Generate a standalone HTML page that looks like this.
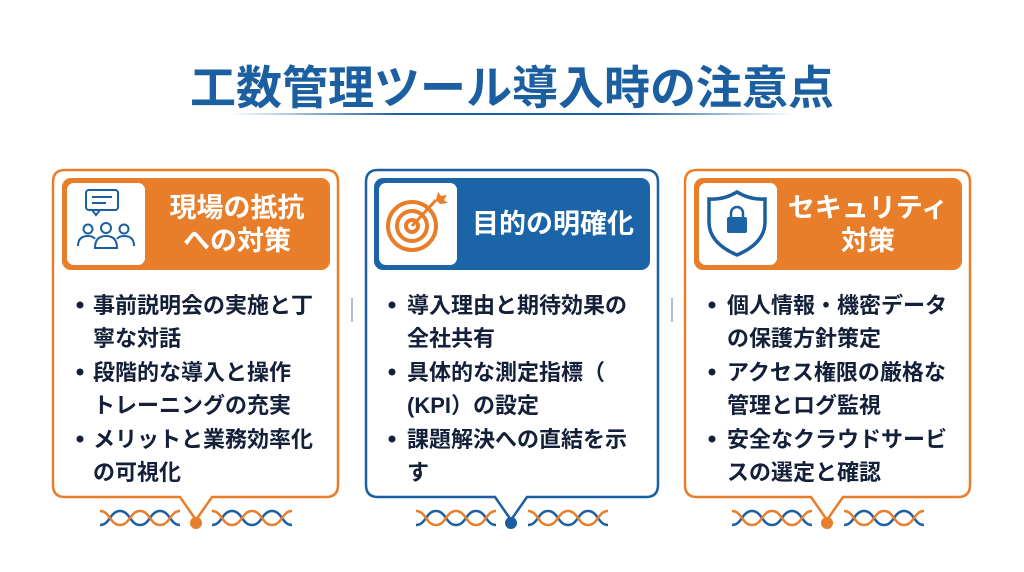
<!DOCTYPE html>
<html><head><meta charset="utf-8"><style>
html,body{margin:0;padding:0;background:#fff;}
svg{display:block;}
text{font-family:"Liberation Sans","Noto Sans CJK JP",sans-serif;font-weight:bold;}
.b{fill:#14203a;font-size:22px;}
.h{fill:#fff;font-size:27px;}
</style></head><body>
<svg width="1024" height="572" viewBox="0 0 1024 572">
<defs>
<linearGradient id="ul" x1="0" x2="1"><stop offset="0" stop-color="#1b5fa0" stop-opacity="0"/><stop offset="0.3" stop-color="#1b5fa0"/><stop offset="0.7" stop-color="#1b5fa0"/><stop offset="1" stop-color="#1b5fa0" stop-opacity="0"/></linearGradient>
<g id="wv" fill="none" stroke-width="2.5">
<path d="M0 525 C10 525,10 511,20 511 S30 525,40 525 S50 511,60 511 S70 525,80 525" stroke="#1b5fa0"/>
<path d="M0 511 C10 511,10 525,20 525 S30 511,40 511 S50 525,60 525 S70 511,80 511" stroke="#e87d2a"/>
</g>
</defs>
<text x="512" y="104" text-anchor="middle" style="font-size:46px;fill:#1b5fa0">工数管理ツール導入時の注意点</text>
<rect x="230" y="113" width="564" height="2" fill="url(#ul)"/>

<!-- card 1 -->
<path d="M65 170 H326 Q338 170 338 182 V485 Q338 497 326 497 H212 L196 520 L180 497 H65 Q53 497 53 485 V182 Q53 170 65 170Z" fill="#fff" stroke="#e87d2a" stroke-width="2.5"/>
<circle cx="196" cy="523" r="6" fill="#e87d2a"/>
<rect x="62" y="178" width="268" height="92" rx="9" fill="#e87d2a"/>
<rect x="67" y="183" width="78" height="82" rx="7" fill="#fff"/>
<g fill="none" stroke="#1b5fa0" stroke-width="2">
<rect x="86" y="190" width="32" height="20" rx="3"/><path d="M92 210 l4 5 l4 -5"/><path d="M92 197 h20 M92 203 h14"/>
<circle cx="106" cy="228" r="5"/><path d="M95 248 q0 -12 11 -12 q11 0 11 12 z"/>
<circle cx="88" cy="229" r="4.5"/><path d="M78 246 q0 -10 10 -10 q5 0 7 3"/>
<circle cx="124" cy="229" r="4.5"/><path d="M134 246 q0 -10 -10 -10 q-5 0 -7 3"/>
</g>
<text class="h" x="237" y="217" text-anchor="middle">現場の抵抗</text>
<text class="h" x="237" y="250" text-anchor="middle">への対策</text>
<circle cx="80" cy="305" r="3.5" fill="#14203a"/><text class="b" x="93" y="313">事前説明会の実施と丁</text>
<text class="b" x="93" y="346">寧な対話</text>
<circle cx="80" cy="372" r="3.5" fill="#14203a"/><text class="b" x="93" y="380">段階的な導入と操作</text>
<text class="b" x="93" y="413">トレーニングの充実</text>
<circle cx="80" cy="439" r="3.5" fill="#14203a"/><text class="b" x="93" y="447">メリットと業務効率化</text>
<text class="b" x="93" y="480">の可視化</text>
<use href="#wv" x="100"/><use href="#wv" x="212"/>

<line x1="352" y1="298" x2="352" y2="322" stroke="#9aa7b8" stroke-width="1.5"/>
<line x1="672" y1="298" x2="672" y2="322" stroke="#9aa7b8" stroke-width="1.5"/>

<!-- card 2 -->
<path d="M378 170 H646 Q658 170 658 182 V485 Q658 497 646 497 H527 L511 520 L495 497 H378 Q366 497 366 485 V182 Q366 170 378 170Z" fill="#fff" stroke="#1b5fa0" stroke-width="2.5"/>
<circle cx="511" cy="523" r="6" fill="#1b5fa0"/>
<rect x="374" y="178" width="276" height="92" rx="9" fill="#1b64a8"/>
<rect x="379" y="183" width="78" height="82" rx="7" fill="#fff"/>
<g fill="none" stroke="#e87d2a" stroke-width="4">
<circle cx="412" cy="226" r="24"/><circle cx="412" cy="226" r="15"/><circle cx="412" cy="226" r="6"/>
<path d="M412 226 L436 200" stroke-width="3"/>
</g>
<path d="M436 200 l2 -8 l3 4 l6 -1 l-3 5 l4 3 l-8 1z" fill="#e87d2a"/>
<text class="h" x="553" y="233" text-anchor="middle">目的の明確化</text>
<circle cx="392" cy="305" r="3.5" fill="#14203a"/><text class="b" x="407" y="313">導入理由と期待効果の</text>
<text class="b" x="407" y="346">全社共有</text>
<circle cx="392" cy="372" r="3.5" fill="#14203a"/><text class="b" x="407" y="380">具体的な測定指標（</text>
<text class="b" x="407" y="413">(KPI）の設定</text>
<circle cx="392" cy="439" r="3.5" fill="#14203a"/><text class="b" x="407" y="447">課題解決への直結を示</text>
<text class="b" x="407" y="480">す</text>
<use href="#wv" x="416"/><use href="#wv" x="528"/>

<!-- card 3 -->
<path d="M697 170 H958 Q970 170 970 182 V485 Q970 497 958 497 H843 L827 520 L811 497 H697 Q685 497 685 485 V182 Q685 170 697 170Z" fill="#fff" stroke="#e87d2a" stroke-width="2.5"/>
<circle cx="827" cy="523" r="6" fill="#e87d2a"/>
<rect x="694" y="178" width="268" height="92" rx="9" fill="#e87d2a"/>
<rect x="699" y="183" width="78" height="82" rx="7" fill="#fff"/>
<path d="M737 192 Q724 200 709 199 V222 Q709 243 737 255 Q765 243 765 222 V199 Q750 200 737 192Z" fill="none" stroke="#1b5fa0" stroke-width="3.5"/>
<path d="M731 218 v-5 a6 6 0 0 1 12 0 v5" fill="none" stroke="#1b5fa0" stroke-width="2.5"/>
<rect x="727" y="217" width="20" height="16" rx="2" fill="#1b64a8"/>
<text class="h" x="868" y="217" text-anchor="middle">セキュリティ</text>
<text class="h" x="868" y="250" text-anchor="middle">対策</text>
<circle cx="712" cy="305" r="3.5" fill="#14203a"/><text class="b" x="727" y="313">個人情報・機密データ</text>
<text class="b" x="727" y="346">の保護方針策定</text>
<circle cx="712" cy="372" r="3.5" fill="#14203a"/><text class="b" x="727" y="380">アクセス権限の厳格な</text>
<text class="b" x="727" y="413">管理とログ監視</text>
<circle cx="712" cy="439" r="3.5" fill="#14203a"/><text class="b" x="727" y="447">安全なクラウドサービ</text>
<text class="b" x="727" y="480">スの選定と確認</text>
<use href="#wv" x="732"/><use href="#wv" x="844"/>
</svg>
</body></html>
